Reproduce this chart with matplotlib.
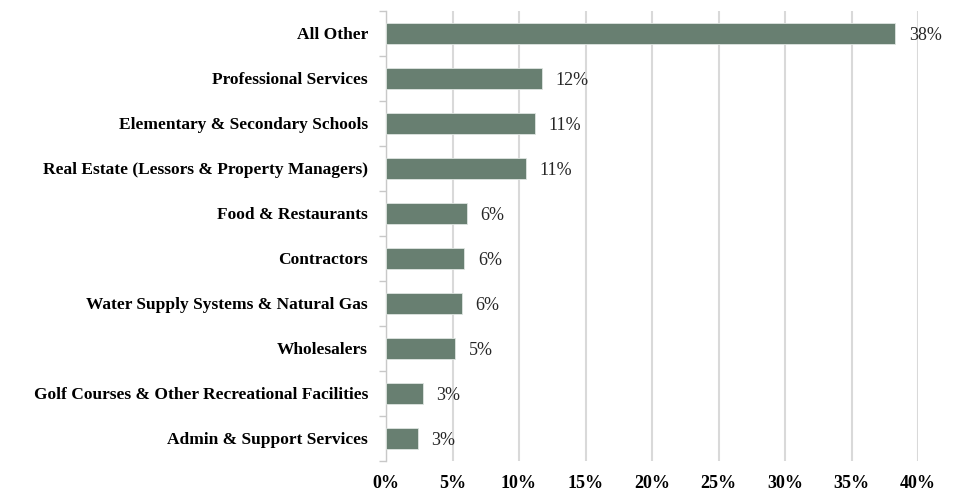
import numpy as np
import matplotlib
matplotlib.use('Agg')
from matplotlib import pyplot as plt
from matplotlib.ticker import FixedLocator, PercentFormatter

categories = ['All Other', 'Professional Services', 'Elementary & Secondary Schools',
              'Real Estate (Lessors & Property Managers)', 'Food & Restaurants',
              'Contractors', 'Water Supply Systems & Natural Gas', 'Wholesalers',
              'Golf Courses & Other Recreational Facilities', 'Admin & Support Services']
shares = [38.3, 11.7, 11.2, 10.5, 6.1, 5.9, 5.7, 5.2, 2.8, 2.4]
labels = ['38%', '12%', '11%', '11%', '6%', '6%', '6%', '5%', '3%', '3%']

plt.rcParams['font.family'] = ['Liberation Serif', 'DejaVu Serif']

fig = plt.figure(figsize=(9.59, 4.92), dpi=100)
ax = fig.add_axes([386/959, 1 - 461/492, (918 - 386)/959, 450/492])

y = np.arange(len(categories))
bars = ax.barh(y, shares, height=0.46, color='#687f71', edgecolor='#dfe5e1', linewidth=0.6, zorder=3)
ax.set_ylim(len(categories) - 0.5, -0.5)
ax.set_xlim(0, 40)

# value labels
for b, lab in zip(bars, labels):
    ax.text(b.get_width() + 1.0, b.get_y() + b.get_height() / 2 + 0.05, lab,
            va='center', ha='left', fontsize=13, color='#262626', zorder=4)

ax.set_yticks(y)
ax.set_yticklabels(categories, fontsize=12.5, fontweight='bold')
ax.tick_params(axis='y', which='major', length=0, pad=13)
ax.yaxis.set_minor_locator(FixedLocator(np.arange(len(categories) + 1) - 0.5))
ax.tick_params(axis='y', which='minor', length=5, color='#c8c8c8', width=1)

ax.set_xticks(np.arange(0, 41, 5))
ax.xaxis.set_major_formatter(PercentFormatter(decimals=0))
ax.tick_params(axis='x', length=0, pad=10, labelsize=13)
for t in ax.get_xticklabels():
    t.set_fontweight('bold')

ax.grid(axis='x', color='#d9d9d9', linewidth=1.5, zorder=0)
for s in ['top', 'right', 'bottom']:
    ax.spines[s].set_visible(False)
ax.spines['left'].set_color('#c8c8c8')
ax.spines['left'].set_linewidth(1)

fig.savefig('out.png', dpi=100, facecolor='white')
